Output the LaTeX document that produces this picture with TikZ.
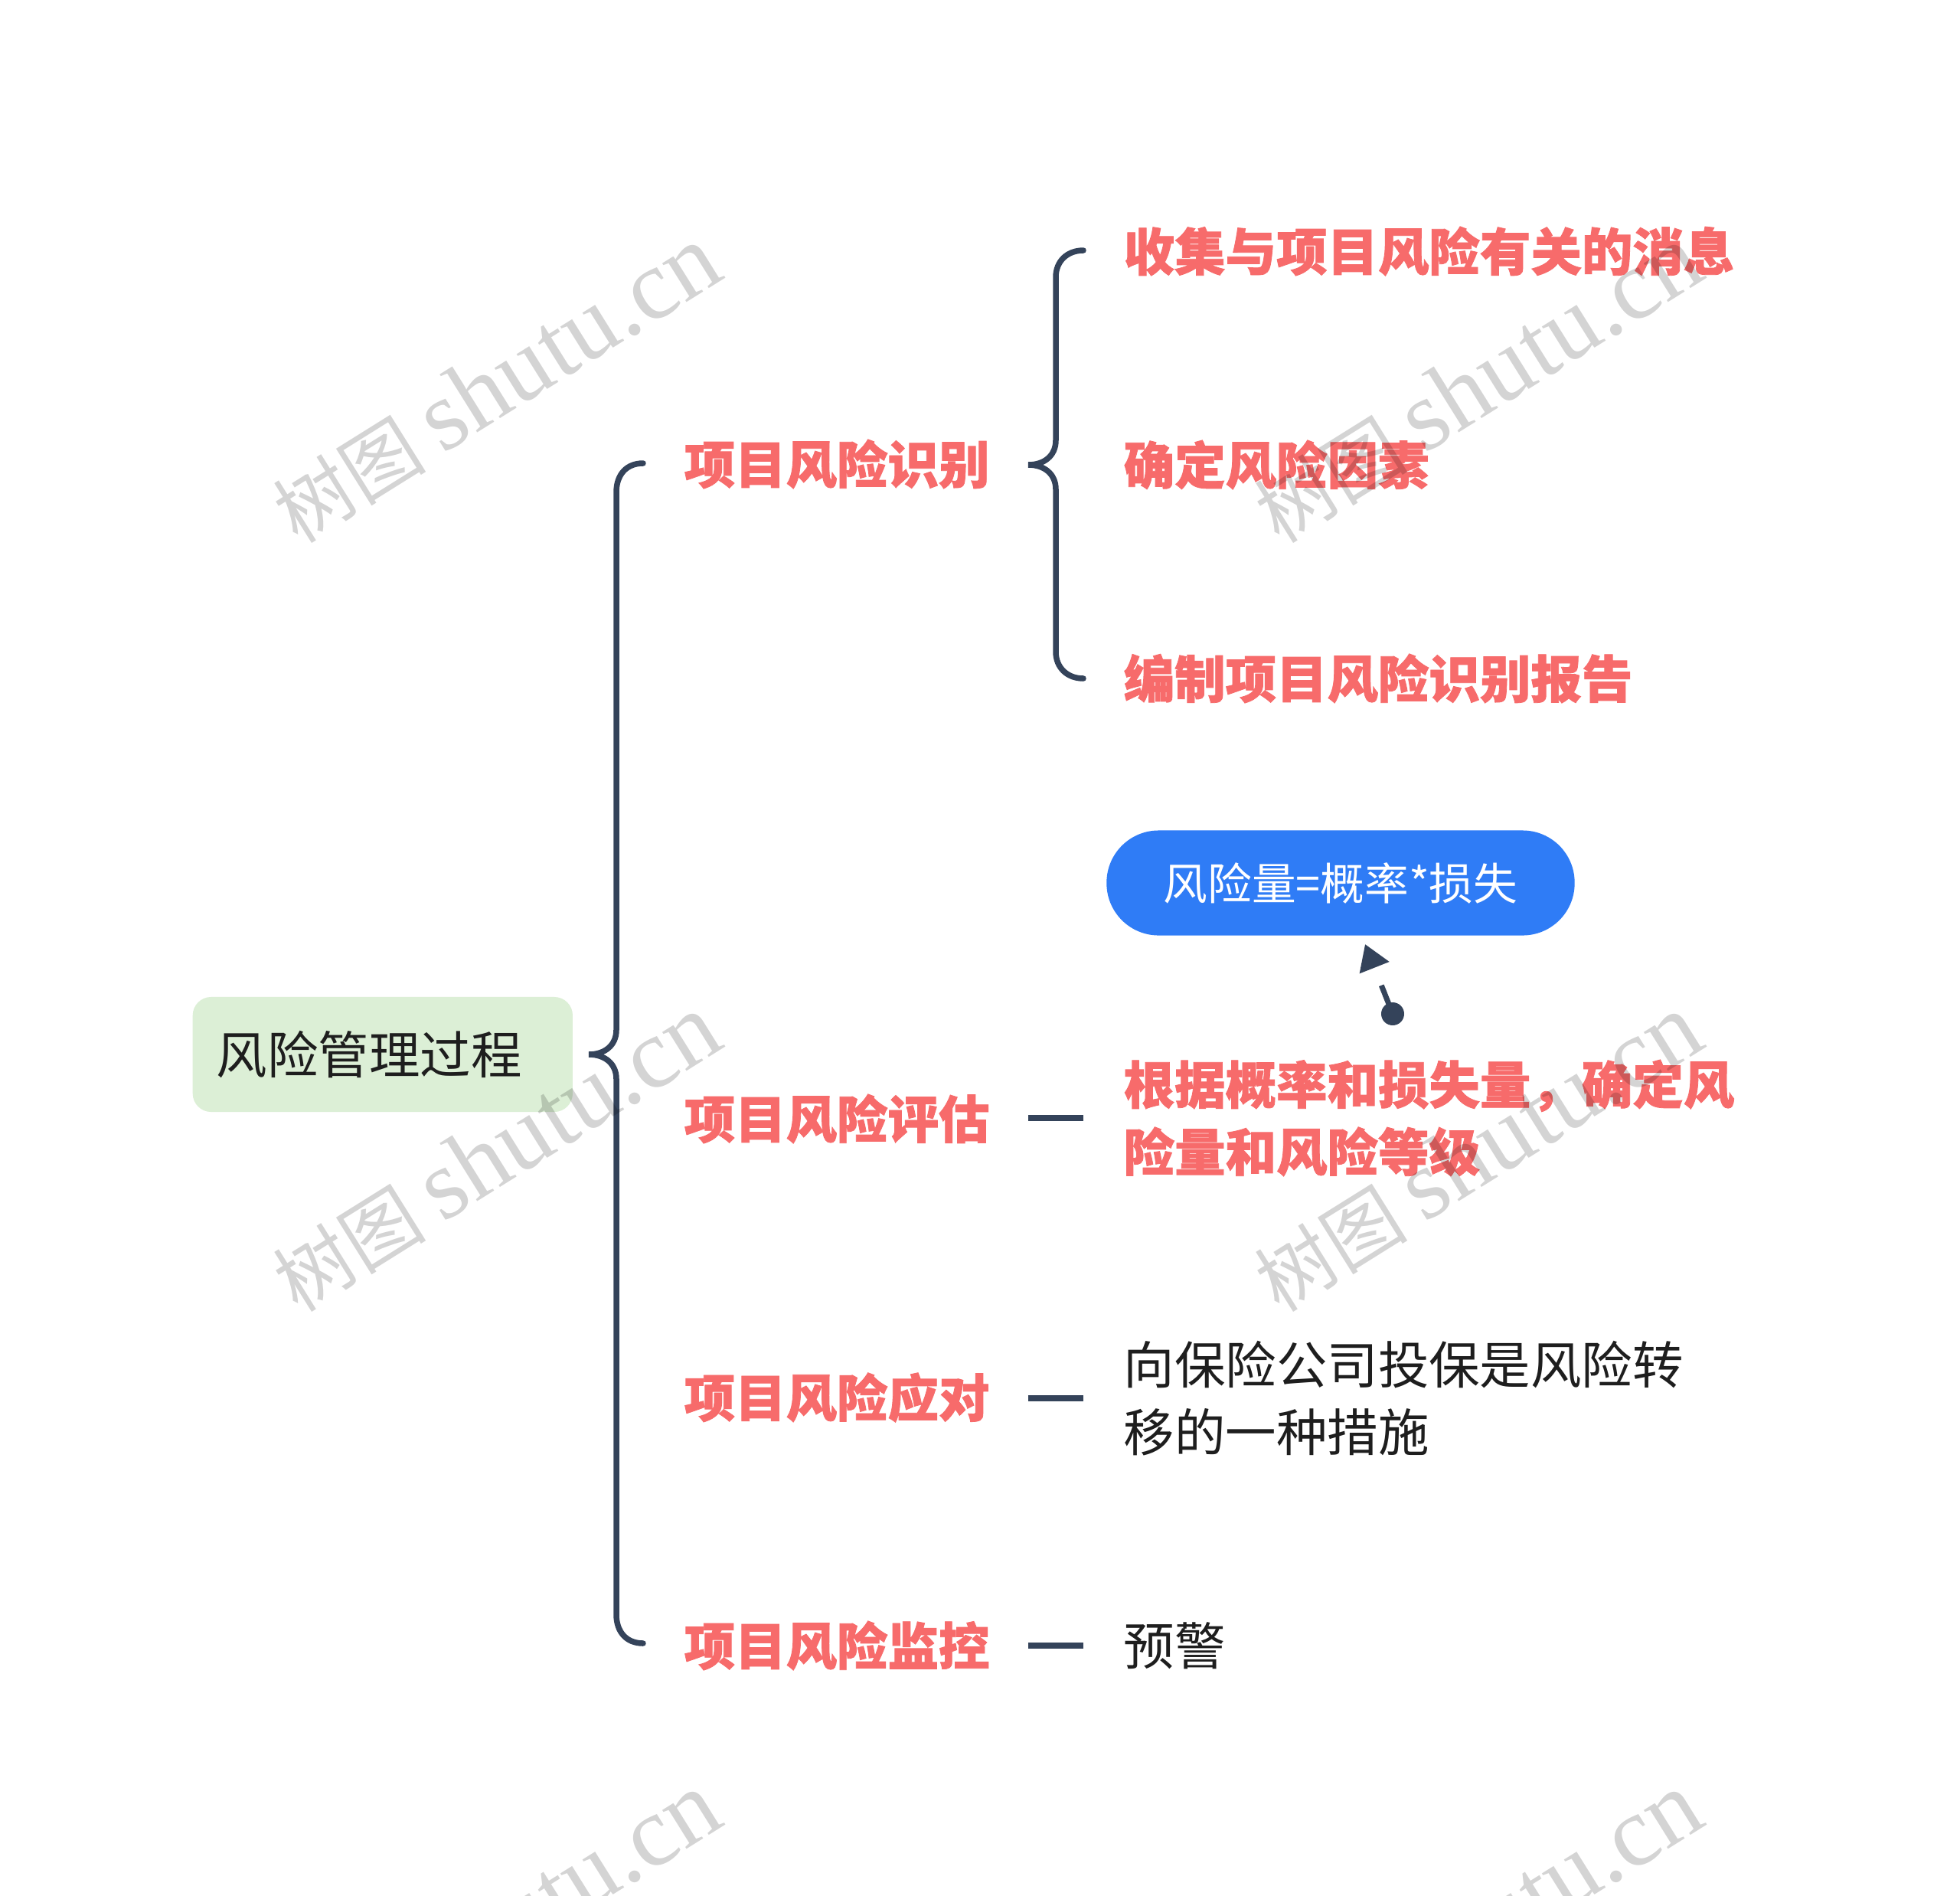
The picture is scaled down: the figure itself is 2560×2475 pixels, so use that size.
\documentclass[tikz,border=0pt]{standalone}
\usepackage{fontspec}
\setmainfont{Noto Sans CJK SC}[BoldFeatures={FakeBold=1.2}]
\newfontfamily\wmlatin{Liberation Serif}
\usetikzlibrary{arrows.meta}
\definecolor{redtxt}{HTML}{F76B6B}
\definecolor{linec}{HTML}{34435A}
\definecolor{rootfill}{HTML}{DCEFD6}
\definecolor{bluefill}{HTML}{2F7CF6}
\definecolor{bodytxt}{HTML}{1E1E1E}
\begin{document}
\begin{tikzpicture}[x=0.01cm,y=-0.01cm,
  rootnode/.style={anchor=west, fill=rootfill, rounded corners=0.24cm, text width=4.34cm, align=left, inner xsep=0.31cm, inner ysep=0pt, minimum height=1.5cm, text=bodytxt, font=\fontsize{18.9pt}{25pt}\selectfont},
  lvlone/.style={anchor=west, inner sep=0pt, text=redtxt, font=\fontsize{18.9pt}{25pt}\selectfont\bfseries},
  lvltwored/.style={anchor=west, inner sep=0pt, align=left, text=redtxt, font=\fontsize{18.9pt}{25pt}\selectfont\bfseries},
  lvltwoplain/.style={anchor=west, inner sep=0pt, align=left, text=bodytxt, font=\fontsize{18.9pt}{25pt}\selectfont},
  bluenode/.style={fill=bluefill, text=white, rounded corners=0.68cm, minimum width=6.11cm, minimum height=1.37cm, inner sep=0pt, font=\fontsize{16.4pt}{18pt}\selectfont},
  bracestyle/.style={draw=linec, line width=0.075cm, line cap=round},
  conn/.style={draw=linec, line width=0.08cm},
  arrowline/.style={draw=linec, line width=0.07cm, dash pattern=on 0.4cm off 0.27cm, -{Triangle[length=0.33cm,width=0.4cm]}},
  wm/.style={text=black, text opacity=0.17, inner sep=0pt, rotate=32, font=\fontsize{28.5pt}{36pt}\selectfont}]
\fill[white] (0,0) rectangle (2560,2475);
\useasboundingbox (0,0) rectangle (2560,2475);

% root
\node[rootnode] (root) at (251,1377) {风险管理过程};

% level one
\node[lvlone] (l1a) at (893,606) {项目风险识别};
\node[lvlone] (l1b) at (893,1461) {项目风险评估};
\node[lvlone] (l1c) at (893,1825) {项目风险应对};
\node[lvlone] (l1d) at (893,2149) {项目风险监控};

% big brace
\coordinate (bigtip) at (769,1377);
\draw[bracestyle] (840,605) .. controls (818,605) and (805,620) .. (805,643) -- (805,1345)
  .. controls (805,1365) and (790,1377) .. (bigtip)
  .. controls (790,1377) and (805,1389) .. (805,1409) -- (805,2108)
  .. controls (805,2131) and (818,2146) .. (840,2146);

% children of 识别
\node[lvltwored] (c1) at (1467,328) {收集与项目风险有关的消息};
\node[lvltwored] (c2) at (1467,607) {确定风险因素};
\node[lvltwored] (c3) at (1467,886) {编制项目风险识别报告};

\coordinate (smalltip) at (1343,607);
\draw[bracestyle] (1415,327) .. controls (1394,327) and (1379,341) .. (1379,362) -- (1379,575)
  .. controls (1379,595) and (1364,607) .. (smalltip)
  .. controls (1364,607) and (1379,619) .. (1379,639) -- (1379,851)
  .. controls (1379,872) and (1394,886) .. (1415,886);

% children of 评估, 应对, 监控
\node[lvltwored] (c4) at (1467,1460) {根据概率和损失量，确定风\\险量和风险等级};
\node[lvltwoplain] (c5) at (1467,1826) {向保险公司投保是风险转\\移的一种措施};
\node[lvltwoplain] (c6) at (1467,2149) {预警};

\draw[conn] ([xshift=-1.24cm]c4.west) -- ([xshift=-0.52cm]c4.west);
\draw[conn] ([xshift=-1.24cm]c5.west) -- ([xshift=-0.52cm]c5.west);
\draw[conn] ([xshift=-1.24cm]c6.west) -- ([xshift=-0.52cm]c6.west);

% formula node and its arrow
\node[bluenode] (blue) at (1751,1153) {风险量=概率*损失};
\coordinate (arrS) at (1819,1324);
\coordinate (arrE) at (1783,1233);
\draw[arrowline] (arrS) -- (arrE);
\fill[linec] (arrS) circle (15);

% watermarks
\node[wm] (wm1) at (648,502) {树图 {\wmlatin\fontsize{37pt}{40pt}\selectfont shutu.cn}};
\node[wm] (wm2) at (1930,502) {树图 {\wmlatin\fontsize{37pt}{40pt}\selectfont shutu.cn}};
\node[wm] (wm3) at (648,1506) {树图 {\wmlatin\fontsize{37pt}{40pt}\selectfont shutu.cn}};
\node[wm] (wm4) at (1930,1506) {树图 {\wmlatin\fontsize{37pt}{40pt}\selectfont shutu.cn}};
\node[wm] (wm5) at (648,2522) {树图 {\wmlatin\fontsize{37pt}{40pt}\selectfont shutu.cn}};
\node[wm] (wm6) at (1930,2522) {树图 {\wmlatin\fontsize{37pt}{40pt}\selectfont shutu.cn}};
\end{tikzpicture}
\end{document}
